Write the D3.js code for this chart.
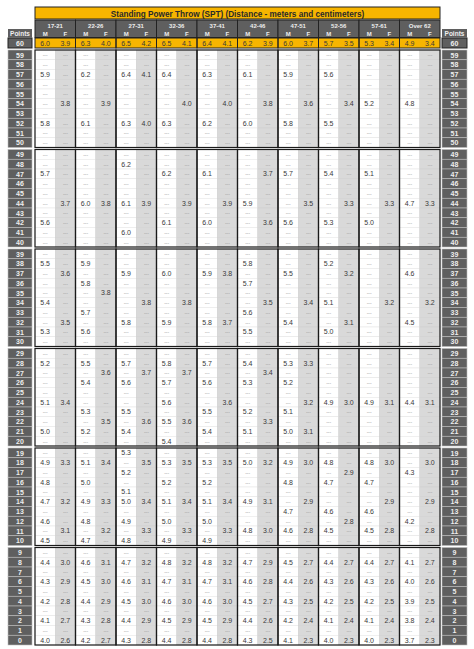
<!DOCTYPE html>
<html>
<head>
<meta charset="utf-8">
<script src="https://cdn.jsdelivr.net/npm/d3@7"></script>
<style>
  body { margin: 0; background: #fff; }
  text { font-family: "Liberation Sans", Arial, sans-serif; }
</style>
</head>
<body>
<div id="chart"></div>
<script>
// Data_____________________________________________________________
const title = 'Standing Power Throw (SPT) (Distance - meters and centimeters)';
const ageGroups = ['17-21', '22-26', '27-31', '32-36', '37-41', '42-46', '47-51', '52-56', '57-61', 'Over 62'];
const sexes = ['M', 'F'];
const points = d3.range(60, -1, -1);
// one string per points row (60 down to 0), 20 values: M,F per age group, '-' = no value
const rows = [
  '6.0 3.9 6.3 4.0 6.5 4.2 6.5 4.1 6.4 4.1 6.2 3.9 6.0 3.7 5.7 3.5 5.3 3.4 4.9 3.4', // 60
  '- - - - - - - - - - - - - - - - - - - -', // 59
  '- - - - - - - - - - - - - - - - - - - -', // 58
  '5.9 - 6.2 - 6.4 4.1 6.4 - 6.3 - 6.1 - 5.9 - 5.6 - - - - -', // 57
  '- - - - - - - - - - - - - - - - - - - -', // 56
  '- - - - - - - - - - - - - - - - - - - -', // 55
  '- 3.8 - 3.9 - - - 4.0 - 4.0 - 3.8 - 3.6 - 3.4 5.2 - 4.8 -', // 54
  '- - - - - - - - - - - - - - - - - - - -', // 53
  '5.8 - 6.1 - 6.3 4.0 6.3 - 6.2 - 6.0 - 5.8 - 5.5 - - - - -', // 52
  '- - - - - - - - - - - - - - - - - - - -', // 51
  '- - - - - - - - - - - - - - - - - - - -', // 50
  '- - - - - - - - - - - - - - - - - - - -', // 49
  '- - - - 6.2 - - - - - - - - - - - - - - -', // 48
  '5.7 - - - - - 6.2 - 6.1 - - 3.7 5.7 - 5.4 - 5.1 - - -', // 47
  '- - - - - - - - - - - - - - - - - - - -', // 46
  '- - - - - - - - - - - - - - - - - - - -', // 45
  '- 3.7 6.0 3.8 6.1 3.9 - 3.9 - 3.9 5.9 - - 3.5 - 3.3 - 3.3 4.7 3.3', // 44
  '- - - - - - - - - - - - - - - - - - - -', // 43
  '5.6 - - - - - 6.1 - 6.0 - - 3.6 5.6 - 5.3 - 5.0 - - -', // 42
  '- - - - 6.0 - - - - - - - - - - - - - - -', // 41
  '- - - - - - - - - - - - - - - - - - - -', // 40
  '- - - - - - - - - - - - - - - - - - - -', // 39
  '5.5 - 5.9 - - - - - - - 5.8 - - - 5.2 - - - - -', // 38
  '- 3.6 - - 5.9 - 6.0 - 5.9 3.8 - - 5.5 - - 3.2 - - 4.6 -', // 37
  '- - 5.8 - - - - - - - 5.7 - - - - - - - - -', // 36
  '- - - 3.8 - - - - - - - - - - - - - - - -', // 35
  '5.4 - - - - 3.8 - 3.8 - - - 3.5 - 3.4 5.1 - - 3.2 - 3.2', // 34
  '- - 5.7 - - - - - - - 5.6 - - - - - - - - -', // 33
  '- 3.5 - - 5.8 - 5.9 - 5.8 3.7 - - 5.4 - - 3.1 - - 4.5 -', // 32
  '5.3 - 5.6 - - - - - - - 5.5 - - - 5.0 - - - - -', // 31
  '- - - - - - - - - - - - - - - - - - - -', // 30
  '- - - - - - - - - - - - - - - - - - - -', // 29
  '5.2 - 5.5 - 5.7 - 5.8 - 5.7 - 5.4 - 5.3 3.3 - - - - - -', // 28
  '- - - 3.6 - 3.7 - 3.7 - - - 3.4 - - - - - - - -', // 27
  '- - 5.4 - 5.6 - 5.7 - 5.6 - 5.3 - 5.2 - - - - - - -', // 26
  '- - - - - - - - - - - - - - - - - - - -', // 25
  '5.1 3.4 - - - - 5.6 - - 3.6 - - - 3.2 4.9 3.0 4.9 3.1 4.4 3.1', // 24
  '- - 5.3 - 5.5 - - - 5.5 - 5.2 - 5.1 - - - - - - -', // 23
  '- - - 3.5 - 3.6 5.5 3.6 - - - 3.3 - - - - - - - -', // 22
  '5.0 - 5.2 - 5.4 - - - 5.4 - 5.1 - 5.0 3.1 - - - - - -', // 21
  '- - - - - - 5.4 - - - - - - - - - - - - -', // 20
  '- - - - 5.3 - - - - - - - - - - - - - - -', // 19
  '4.9 3.3 5.1 3.4 - 3.5 5.3 3.5 5.3 3.5 5.0 3.2 4.9 3.0 4.8 - 4.8 3.0 - 3.0', // 18
  '- - - - 5.2 - - - - - - - - - - 2.9 - - 4.3 -', // 17
  '4.8 - 5.0 - - - 5.2 - 5.2 - - - 4.8 - 4.7 - 4.7 - - -', // 16
  '- - - - 5.1 - - - - - - - - - - - - - - -', // 15
  '4.7 3.2 4.9 3.3 5.0 3.4 5.1 3.4 5.1 3.4 4.9 3.1 - 2.9 - - - 2.9 - 2.9', // 14
  '- - - - - - - - - - - - 4.7 - 4.6 - 4.6 - - -', // 13
  '4.6 - 4.8 - 4.9 - 5.0 - 5.0 - - - - - - 2.8 - - 4.2 -', // 12
  '- 3.1 - 3.2 - 3.3 - 3.3 - 3.3 4.8 3.0 4.6 2.8 4.5 - 4.5 2.8 - 2.8', // 11
  '4.5 - 4.7 - 4.8 - 4.9 - 4.9 - - - - - - - - - - -', // 10
  '- - - - - - - - - - - - - - - - - - - -', // 9
  '4.4 3.0 4.6 3.1 4.7 3.2 4.8 3.2 4.8 3.2 4.7 2.9 4.5 2.7 4.4 2.7 4.4 2.7 4.1 2.7', // 8
  '- - - - - - - - - - - - - - - - - - - -', // 7
  '4.3 2.9 4.5 3.0 4.6 3.1 4.7 3.1 4.7 3.1 4.6 2.8 4.4 2.6 4.3 2.6 4.3 2.6 4.0 2.6', // 6
  '- - - - - - - - - - - - - - - - - - - -', // 5
  '4.2 2.8 4.4 2.9 4.5 3.0 4.6 3.0 4.6 3.0 4.5 2.7 4.3 2.5 4.2 2.5 4.2 2.5 3.9 2.5', // 4
  '- - - - - - - - - - - - - - - - - - - -', // 3
  '4.1 2.7 4.3 2.8 4.4 2.9 4.5 2.9 4.5 2.9 4.4 2.6 4.2 2.4 4.1 2.4 4.1 2.4 3.8 2.4', // 2
  '- - - - - - - - - - - - - - - - - - - -', // 1
  '4.0 2.6 4.2 2.7 4.3 2.8 4.4 2.8 4.4 2.8 4.3 2.5 4.1 2.3 4.0 2.3 4.0 2.3 3.7 2.3'  // 0
];

// Layout___________________________________________________________
const width = 474, height = 649;
const tableLeft = 35, tableRight = 440;
const orange = '#f7b500', darkGray = '#5f5f5f', lightGray = '#d9d9d9', ink = '#3a3a3a';

const columns = [];
ageGroups.forEach(g => sexes.forEach(s => columns.push(g + '|' + s)));

const xGroup = d3.scaleBand().domain(ageGroups).range([tableLeft, tableRight]);
const xCol = d3.scaleBand().domain(columns).range([tableLeft, tableRight]);

// rows 59..0 in blocks of ten, with a small gap between blocks
const bodyTop = 50, rowH = 9.75, blockGap = 2;
const yRow = p => bodyTop + (59 - p) * rowH + Math.floor((59 - p) / 10) * blockGap;

const svg = d3.select('#chart').append('svg')
  .attr('width', width).attr('height', height);

// Title bar
svg.append('rect').attr('x', tableLeft).attr('y', 7).attr('width', tableRight - tableLeft).attr('height', 12)
  .attr('fill', orange).attr('stroke', '#222').attr('stroke-width', 1);
svg.append('text').attr('x', (tableLeft + tableRight) / 2).attr('y', 16.5)
  .attr('text-anchor', 'middle').attr('font-size', 8.2).attr('font-weight', 'bold').attr('fill', '#2a2a2a')
  .text(title);

// Age group header + M/F row
const head = svg.append('g');
head.selectAll('rect.age').data(ageGroups).enter().append('rect')
  .attr('x', d => xGroup(d)).attr('y', 20).attr('width', xGroup.bandwidth()).attr('height', 17.5)
  .attr('fill', darkGray).attr('stroke', '#222').attr('stroke-width', 1);
head.selectAll('text.age').data(ageGroups).enter().append('text')
  .attr('x', d => xGroup(d) + xGroup.bandwidth() / 2).attr('y', 27.5)
  .attr('text-anchor', 'middle').attr('font-size', 6).attr('font-weight', 'bold').attr('fill', '#eee')
  .text(d => d);
head.selectAll('text.sex').data(columns).enter().append('text')
  .attr('x', d => xCol(d) + xCol.bandwidth() / 2).attr('y', 35.5)
  .attr('text-anchor', 'middle').attr('font-size', 6).attr('font-weight', 'bold').attr('fill', '#eee')
  .text(d => d.split('|')[1]);

// Points side columns
const sides = [[8, 32], [442, 467]];
sides.forEach(([x0, x1]) => {
  svg.append('rect').attr('x', x0).attr('y', 29).attr('width', x1 - x0).attr('height', 8.5).attr('fill', darkGray);
  svg.append('text').attr('x', (x0 + x1) / 2).attr('y', 35.8).attr('text-anchor', 'middle')
    .attr('font-size', 6.5).attr('font-weight', 'bold').attr('fill', '#eee').text('Points');
  svg.append('rect').attr('x', x0).attr('y', 38).attr('width', x1 - x0).attr('height', 10).attr('fill', darkGray)
    .attr('stroke', '#222');
  svg.append('text').attr('x', (x0 + x1) / 2).attr('y', 45.8).attr('text-anchor', 'middle')
    .attr('font-size', 7).attr('font-weight', 'bold').attr('fill', '#eee').text('60');
  const g = svg.append('g');
  g.selectAll('rect').data(points.slice(1)).enter().append('rect')
    .attr('x', x0).attr('y', d => yRow(d)).attr('width', x1 - x0).attr('height', rowH)
    .attr('fill', darkGray).attr('stroke', '#bdbdbd').attr('stroke-width', 0.6);
  g.selectAll('text').data(points.slice(1)).enter().append('text')
    .attr('x', (x0 + x1) / 2).attr('y', d => yRow(d) + rowH - 2.2).attr('text-anchor', 'middle')
    .attr('font-size', 7).attr('font-weight', 'bold').attr('fill', '#eee').text(d => d);
});

// Max (60) row in orange
const maxRow = rows[0].split(' ');
svg.append('rect').attr('x', tableLeft).attr('y', 38).attr('width', tableRight - tableLeft).attr('height', 10)
  .attr('fill', orange);
svg.selectAll('text.max').data(columns).enter().append('text')
  .attr('x', d => xCol(d) + xCol.bandwidth() / 2).attr('y', 45.8).attr('text-anchor', 'middle')
  .attr('font-size', 7).attr('fill', ink).text((d, i) => maxRow[i]);
svg.selectAll('rect.maxg').data(ageGroups).enter().append('rect')
  .attr('x', d => xGroup(d)).attr('y', 38).attr('width', xGroup.bandwidth()).attr('height', 10)
  .attr('fill', 'none').attr('stroke', '#222').attr('stroke-width', 1);

// Body cells
const cells = [];
points.slice(1).forEach((p, ri) => {
  rows[ri + 1].split(' ').forEach((v, ci) => cells.push({ p, col: columns[ci], v, female: ci % 2 === 1 }));
});
const body = svg.append('g');
body.selectAll('rect').data(cells).enter().append('rect')
  .attr('x', d => xCol(d.col)).attr('y', d => yRow(d.p))
  .attr('width', xCol.bandwidth()).attr('height', rowH)
  .attr('fill', d => d.female ? lightGray : '#fff')
  .attr('stroke', d => d.female ? '#cfcfcf' : '#e4e4e4').attr('stroke-width', 0.5);
body.selectAll('text').data(cells).enter().append('text')
  .attr('x', d => xCol(d.col) + xCol.bandwidth() / 2).attr('y', d => yRow(d.p) + rowH - 2.4)
  .attr('text-anchor', 'middle')
  .attr('font-size', d => d.v === '-' ? 5 : 7)
  .attr('fill', d => d.v === '-' ? '#9a9a9a' : ink)
  .text(d => d.v === '-' ? '---' : d.v);

// Thick borders around each block of ten rows per age group
const blocks = d3.range(6);
ageGroups.forEach(g => {
  blocks.forEach(b => {
    const pTop = 59 - b * 10, pBot = Math.max(pTop - 9, 0);
    const y0 = yRow(pTop), y1 = yRow(pBot) + rowH;
    svg.append('rect').attr('x', xGroup(g)).attr('y', y0).attr('width', xGroup.bandwidth()).attr('height', y1 - y0)
      .attr('fill', 'none').attr('stroke', '#1a1a1a').attr('stroke-width', 1.2);
  });
});
</script>
</body>
</html>
